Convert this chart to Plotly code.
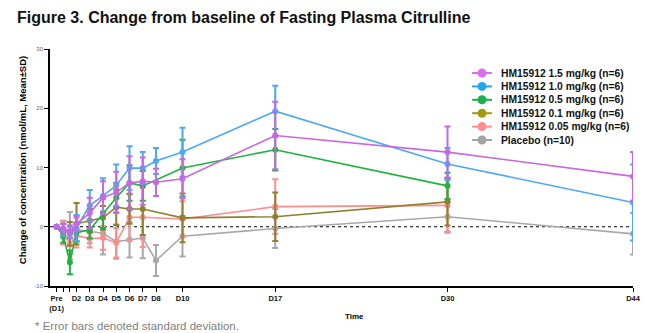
import plotly.graph_objects as go

# Time points (days); 0.5 = Pre (D1)
days = [0.5, 1, 1.5, 2, 3, 4, 5, 6, 7, 8, 10, 17, 30, 44]
tick_vals = [0.5, 1, 1.5, 2, 3, 4, 5, 6, 7, 8, 10, 17, 30, 44]
tick_text = ["Pre<br>(D1)", "", "", "D2", "D3", "D4", "D5", "D6", "D7", "D8", "D10", "D17", "D30", "D44"]

# Mean change from baseline (nmol/mL)
mean_15 = [0, -0.3, -0.8, 0.5, 2.3, 4.9, 5.8, 7.4, 7.7, 7.5, 8.1, 15.4, 12.6, 8.5]
mean_10 = [0, -0.5, -1.0, -0.2, 3.6, 5.2, 7.0, 9.9, 9.9, 11.1, 12.6, 19.5, 10.6, 4.1]
mean_05 = [0, -1.5, -6.0, -1.0, -0.5, 2.3, 4.9, 7.4, 6.9, None, 9.9, 13.0, 6.9, None]
mean_01 = [0, -0.5, -1.2, 0.5, 1.0, 1.5, 3.3, 3.0, 3.0, None, 1.5, 1.7, 4.2, None]
mean_005 = [0, -1.0, -3.0, -1.5, -2.0, -1.9, -2.7, 1.6, 1.6, None, 1.3, 3.4, 3.6, None]
mean_pbo = [0, -0.5, -1.0, -0.5, -0.8, -1.1, -2.5, -2.2, -1.9, -5.7, -1.6, -0.3, 1.7, -1.2]

# Standard deviations
sd_15 = [0, 0.8, 1.0, 1.3, 2.6, 2.8, 3.5, 4.5, 4.0, 2.3, 3.3, 5.7, 4.3, 4.1]
sd_10 = [0, 1.0, 1.0, 2.2, 2.6, 3.0, 3.5, 3.7, 2.7, 2.2, 4.1, 4.3, 2.7, 6.4]
sd_05 = [0, 1.2, 2.0, 1.5, 1.5, 2.5, 2.5, 3.0, 2.5, None, 4.8, 3.5, 2.2, None]
sd_01 = [0, 1.0, 2.0, 3.5, 2.0, 2.0, 3.0, 2.5, 4.4, None, 4.1, 4.1, 4.0, None]
sd_005 = [0, 2.0, 2.5, 2.0, 1.5, 2.0, 2.5, 4.0, 5.0, None, 3.0, 4.6, 4.6, None]
sd_pbo = [0, 1.5, 3.5, 2.0, 2.0, 3.6, 2.9, 3.0, 3.4, 2.6, 3.4, 3.3, 2.5, 3.5]

names = ["HM15912 1.5 mg/kg (n=6)", "HM15912 1.0 mg/kg (n=6)", "HM15912 0.5 mg/kg (n=6)",
         "HM15912 0.1 mg/kg (n=6)", "HM15912 0.05 mg/kg (n=6)", "Placebo (n=10)"]
means = [mean_15, mean_10, mean_05, mean_01, mean_005, mean_pbo]
sds = [sd_15, sd_10, sd_05, sd_01, sd_005, sd_pbo]
colors = ["#C866E4", "#4DA8F5", "#1CB43C", "#8F8030", "#FF8C8C", "#A8A8A8"]
legend_colors = ["#DC6EEE", "#22A6F2", "#1AB04C", "#A09A10", "#FF8E8E", "#A4A4A4"]

FONT = "Arial, Liberation Sans, sans-serif"

# plot-area geometry in pixels (for paper-coordinate conversion of decorations)
L, R, T, B = 50, 637, 49, 286
PW, PH = R - L, B - T


def px(x):
    return (x - L) / PW


def py(y):
    return (B - y) / PH


fig = go.Figure()
# add in reverse so that 1.5 mg/kg is drawn on top
for name, m, s, c in reversed(list(zip(names, means, sds, colors))):
    xs = [d for d, v in zip(days, m) if v is not None]
    ys = [v for v in m if v is not None]
    es = [e for e, v in zip(s, m) if v is not None]
    fig.add_trace(go.Scatter(
        x=xs, y=ys, name=name, mode="lines+markers", showlegend=False,
        line=dict(color=c, width=1.6),
        marker=dict(color=c, size=6),
        error_y=dict(type="data", array=es, visible=True, color=c, thickness=2, width=3),
    ))

fig.add_shape(type="line", xref="paper", x0=0, x1=1, yref="y", y0=0, y1=0,
              line=dict(color="black", width=1, dash="dot"), layer="below")

# compact legend (row spacing ~13.4 px)
row0, gap = 73, 13.4
for i, (name, c) in enumerate(zip(names, legend_colors)):
    yy = row0 + i * gap
    fig.add_shape(type="line", xref="paper", yref="paper", x0=px(475), x1=px(495),
                  y0=py(yy), y1=py(yy), line=dict(color=c, width=2))
    fig.add_shape(type="circle", xref="paper", yref="paper", x0=px(480.5), x1=px(489.5),
                  y0=py(yy + 4.5), y1=py(yy - 4.5), line=dict(color=c, width=0), fillcolor=c)
    fig.add_annotation(text="<b>" + name + "</b>", xref="paper", yref="paper", x=px(502), y=py(yy),
                       xanchor="left", yanchor="middle", showarrow=False,
                       font=dict(size=10.3, color="#111111"))

fig.update_layout(
    width=653, height=333,
    margin=dict(l=L, r=653 - R, t=T, b=333 - B),
    paper_bgcolor="white", plot_bgcolor="white",
    font=dict(family=FONT, color="black"),
    title=dict(text="<b>Figure 3. Change from baseline of Fasting Plasma Citrulline</b>",
               x=17/653, xanchor="left", y=1 - 17/333, yanchor="middle",
               font=dict(size=16, color="#111111")),
    showlegend=False,
    xaxis=dict(range=[0, 44], tickvals=tick_vals, ticktext=["<b>" + t + "</b>" for t in tick_text],
               tickangle=0,
               showgrid=False, zeroline=False, showline=True, linecolor="black", linewidth=1.5,
               ticks="outside", ticklen=4, tickcolor="black", tickwidth=1,
               tickfont=dict(size=7.5, color="#111111")),
    yaxis=dict(range=[-10, 30], tickvals=[-10, 0, 10, 20, 30], ticktext=["-10", "0", "10", "20", "30"],
               showgrid=False, zeroline=False, showline=True, linecolor="black", linewidth=1.5,
               ticks="outside", ticklen=4, tickcolor="black", tickwidth=1,
               tickfont=dict(size=6, color="#666666")),
)

fig.add_annotation(text="<b>Change of concentration (nmol/mL, Mean±SD)</b>", textangle=-90,
                   xref="paper", yref="paper", x=px(22), y=py(160),
                   xanchor="center", yanchor="middle", showarrow=False,
                   font=dict(size=9.5, color="black"))
fig.add_annotation(text="<b>Time</b>", xref="paper", yref="paper", x=px(357),
                   y=py(316), xanchor="center", yanchor="middle", showarrow=False,
                   font=dict(size=8, color="black"))
fig.add_annotation(text="* Error bars denoted standard deviation.", xref="paper", yref="paper",
                   x=px(33), y=py(326), xanchor="left", yanchor="middle",
                   showarrow=False, font=dict(size=11.5, color="#808080"))

fig.write_html("out.html")
